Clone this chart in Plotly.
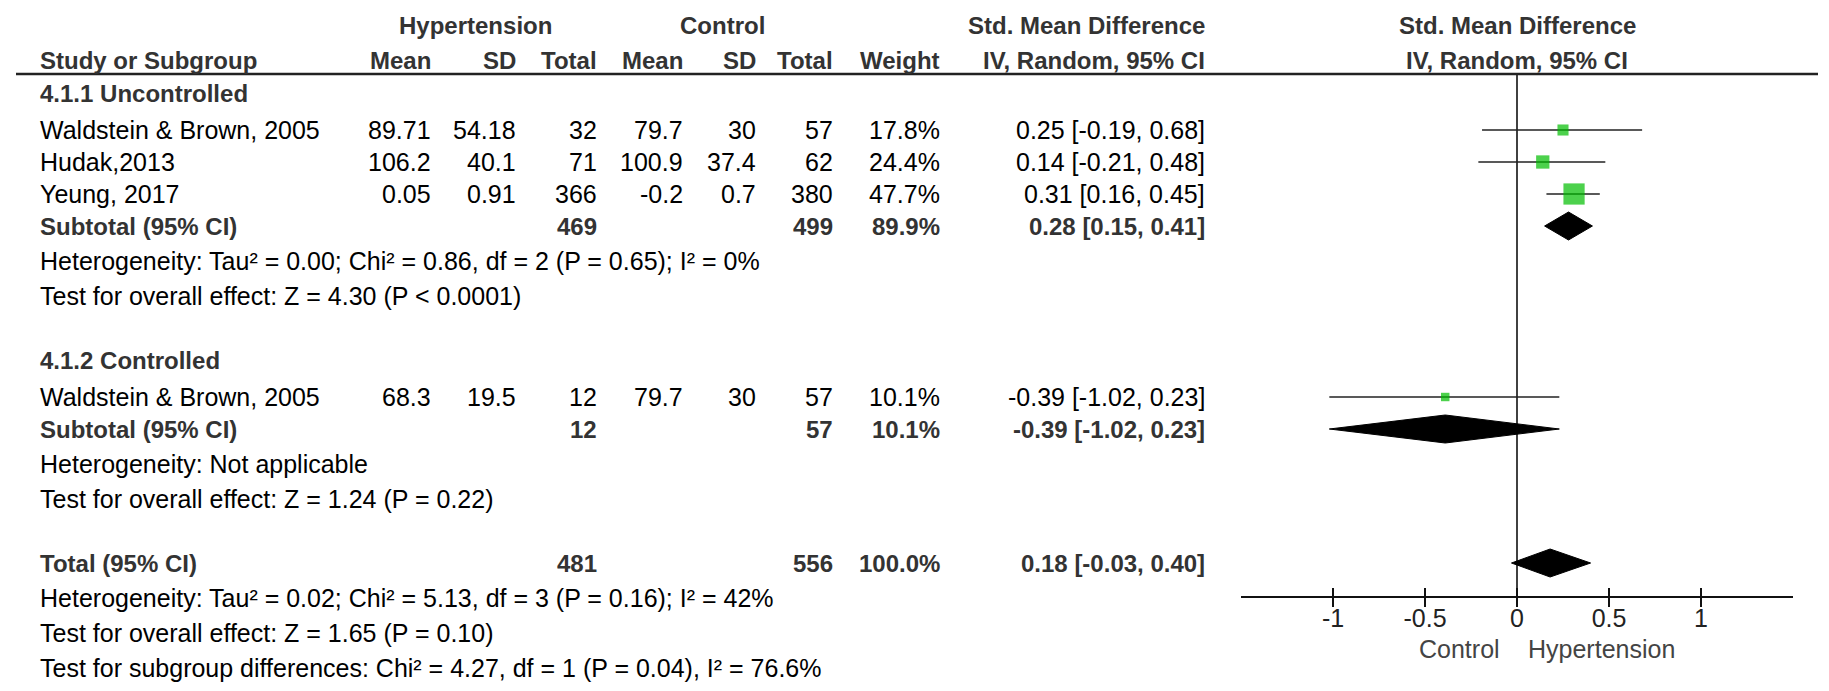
import plotly.graph_objects as go

# ---------------- data ----------------
group_names = ["4.1.1 Uncontrolled", "4.1.2 Controlled"]
study_names = ["Waldstein & Brown, 2005", "Hudak,2013", "Yeung, 2017", "Waldstein & Brown, 2005"]
study_group = [0, 0, 0, 1]
h_mean = [89.71, 106.2, 0.05, 68.3]
h_sd = [54.18, 40.1, 0.91, 19.5]
h_n = [32, 71, 366, 12]
c_mean = [79.7, 100.9, -0.2, 79.7]
c_sd = [30, 37.4, 0.7, 30]
c_n = [57, 62, 380, 57]
weights = [17.8, 24.4, 47.7, 10.1]
smd = [0.25, 0.14, 0.31, -0.39]
ci_lo = [-0.19, -0.21, 0.16, -1.02]
ci_hi = [0.68, 0.48, 0.45, 0.23]

sub_labels = ["Subtotal (95% CI)", "Subtotal (95% CI)", "Total (95% CI)"]
sub_h_n = [469, 12, 481]
sub_c_n = [499, 57, 556]
sub_weight = [89.9, 10.1, 100.0]
sub_smd = [0.28, -0.39, 0.18]
sub_lo = [0.15, -1.02, -0.03]
sub_hi = [0.41, 0.23, 0.40]

group_stats = [
    ["Heterogeneity: Tau² = 0.00; Chi² = 0.86, df = 2 (P = 0.65); I² = 0%",
     "Test for overall effect: Z = 4.30 (P < 0.0001)"],
    ["Heterogeneity: Not applicable",
     "Test for overall effect: Z = 1.24 (P = 0.22)"],
]
total_stats = [
    "Heterogeneity: Tau² = 0.02; Chi² = 5.13, df = 3 (P = 0.16); I² = 42%",
    "Test for overall effect: Z = 1.65 (P = 0.10)",
    "Test for subgroup differences: Chi² = 4.27, df = 1 (P = 0.04), I² = 76.6%",
]
tick_vals = [-1, -0.5, 0, 0.5, 1]
tick_text = ["-1", "-0.5", "0", "0.5", "1"]
favours = ["Control", "Hypertension"]

# ---------------- layout constants ----------------
W, H = 1829, 691
FONT = "Liberation Sans, Arial, sans-serif"
FS = 25
FSB = 24
BOLDC = "#333333"
GREEN = "#00BE00"

FIRST_ROW_PY = 93
PITCH = {"group": 37, "study": 32, "sub": 35, "gstat": 35, "tstat": 35, "blank": 29}
HDR1_PY, HDR2_PY = 25, 60
LINE_PY = 74
AXIS_PY = 597
FAV_PY = 649

# column right edges (px)
COL_STUDY = 38
COL_HM, COL_HSD, COL_HN = 433, 518, 599
COL_CM, COL_CSD, COL_CN = 685, 758, 835
COL_W, COL_CI = 942, 1207
X0_PX = 1517   # pixel of x=0 in forest plot
PX_PER_UNIT = 184
XR = [-1.5, 1.5]
dom = [(X0_PX + XR[0] * PX_PER_UNIT) / W, (X0_PX + XR[1] * PX_PER_UNIT) / W]

# ---------------- row assignment ----------------
rows = []  # (kind, index)
for g in range(len(group_names)):
    rows.append(("group", g))
    for i, sg in enumerate(study_group):
        if sg == g:
            rows.append(("study", i))
    rows.append(("sub", g))
    for k in range(len(group_stats[g])):
        rows.append(("gstat", (g, k)))
    rows.append(("blank", None))
rows.append(("sub", 2))
for k in range(len(total_stats)):
    rows.append(("tstat", k))

row_y = []
y = FIRST_ROW_PY
for kind, _ in rows:
    row_y.append(y)
    y += PITCH[kind]

annotations = []

def txt(px, py, s, anchor="right", bold=False, color=None, size=None):
    s = s.replace("&", "&amp;").replace("<", "&lt;")
    annotations.append(dict(
        x=px / W, xref="paper", y=py, yref="y", text=("<b>%s</b>" % s) if bold else s,
        xanchor=anchor, yanchor="middle", showarrow=False,
        font=dict(family=FONT, size=size or (FSB if bold else FS),
                  color=color or (BOLDC if bold else "#000000")),
    ))

def fmt(v):
    return ("%g" % v)

# header
txt(475, HDR1_PY, "Hypertension", "center", True)
txt(722, HDR1_PY, "Control", "center", True)
txt(COL_CI, HDR1_PY, "Std. Mean Difference", "right", True)
txt(X0_PX, HDR1_PY, "Std. Mean Difference", "center", True)
txt(COL_STUDY, HDR2_PY, "Study or Subgroup", "left", True)
for px, s in [(COL_HM, "Mean"), (COL_HSD, "SD"), (COL_HN, "Total"),
              (COL_CM, "Mean"), (COL_CSD, "SD"), (COL_CN, "Total"),
              (COL_W, "Weight"), (COL_CI, "IV, Random, 95% CI")]:
    txt(px, HDR2_PY, s, "right", True)
txt(X0_PX, HDR2_PY, "IV, Random, 95% CI", "center", True)

# body
study_y, sub_y = {}, {}
for (kind, idx), r in zip(rows, row_y):
    if kind == "group":
        txt(COL_STUDY, r, group_names[idx], "left", True)
    elif kind == "study":
        i = idx
        study_y[i] = r
        txt(COL_STUDY, r, study_names[i], "left")
        txt(COL_HM, r, fmt(h_mean[i]))
        txt(COL_HSD, r, fmt(h_sd[i]))
        txt(COL_HN, r, str(h_n[i]))
        txt(COL_CM, r, fmt(c_mean[i]))
        txt(COL_CSD, r, fmt(c_sd[i]))
        txt(COL_CN, r, str(c_n[i]))
        txt(COL_W, r, "%.1f%%" % weights[i])
        txt(COL_CI, r, "%.2f [%.2f, %.2f]" % (smd[i], ci_lo[i], ci_hi[i]))
    elif kind == "sub":
        j = idx
        sub_y[j] = r
        txt(COL_STUDY, r, sub_labels[j], "left", True)
        txt(COL_HN, r, str(sub_h_n[j]), "right", True)
        txt(COL_CN, r, str(sub_c_n[j]), "right", True)
        txt(COL_W, r, "%.1f%%" % sub_weight[j], "right", True)
        txt(COL_CI, r, "%.2f [%.2f, %.2f]" % (sub_smd[j], sub_lo[j], sub_hi[j]), "right", True)
    elif kind == "gstat":
        g, k = idx
        txt(COL_STUDY, r, group_stats[g][k], "left")
    elif kind == "tstat":
        txt(COL_STUDY, r, total_stats[idx], "left")

# favours labels under axis
annotations.append(dict(x=-0.08, xref="x", y=FAV_PY, yref="y", text=favours[0], xanchor="right",
                        yanchor="middle", showarrow=False, font=dict(family=FONT, size=FS, color="#444444")))
annotations.append(dict(x=0.05, xref="x", y=FAV_PY, yref="y", text=favours[1], xanchor="left",
                        yanchor="middle", showarrow=False, font=dict(family=FONT, size=FS, color="#444444")))

fig = go.Figure()

# zero line
fig.add_trace(go.Scatter(x=[0, 0], y=[LINE_PY, AXIS_PY], mode="lines",
                         line=dict(color="#111111", width=1.6), hoverinfo="skip", showlegend=False))

# CI lines
for i in range(len(smd)):
    r = study_y[i]
    fig.add_trace(go.Scatter(x=[ci_lo[i], ci_hi[i]], y=[r, r], mode="lines",
                             line=dict(color="#222222", width=1.6), hoverinfo="skip", showlegend=False))

# squares
fig.add_trace(go.Scatter(
    x=smd, y=[study_y[i] for i in range(len(smd))], mode="markers",
    marker=dict(symbol="square", color=GREEN, size=[5 + 0.34 * w for w in weights], line=dict(width=0)),
    hoverinfo="skip", showlegend=False))

# diamonds
HALF = 14
for j in range(len(sub_smd)):
    r = sub_y[j]
    fig.add_trace(go.Scatter(
        x=[sub_lo[j], sub_smd[j], sub_hi[j], sub_smd[j], sub_lo[j]],
        y=[r, r - HALF, r, r + HALF, r], mode="lines", fill="toself",
        fillcolor="#000000", line=dict(color="#000000", width=1),
        hoverinfo="skip", showlegend=False))

axis_pos = (H - AXIS_PY) / H
fig.update_layout(
    width=W, height=H, margin=dict(l=0, r=0, t=0, b=0),
    paper_bgcolor="white", plot_bgcolor="rgba(0,0,0,0)",
    showlegend=False,
    xaxis=dict(domain=dom, range=XR, anchor="free", position=axis_pos,
               showline=True, linecolor="#111111", linewidth=1.6,
               ticks="outside", ticklen=9, tickwidth=1.6, tickcolor="#111111",
               tickvals=tick_vals, ticktext=tick_text, showgrid=False, zeroline=False,
               ticklabelstandoff=-10,
               tickfont=dict(family=FONT, size=FS, color="#222222")),
    xaxis3=dict(domain=dom, range=XR, anchor="free", position=axis_pos, overlaying="x",
                matches="x", showline=False, ticks="inside", ticklen=9, tickwidth=1.6,
                tickcolor="#111111", tickvals=tick_vals, showticklabels=False,
                showgrid=False, zeroline=False),
    yaxis=dict(domain=[0, 1], range=[H, 0], visible=False, showgrid=False, zeroline=False),
    annotations=annotations,
    shapes=[dict(type="line", xref="paper", yref="y", x0=16 / W, x1=1818 / W, y0=LINE_PY, y1=LINE_PY,
                 line=dict(color="#222222", width=2.5))],
)
# invisible trace to activate xaxis3
fig.add_trace(go.Scatter(x=[0], y=[AXIS_PY], xaxis="x3", mode="markers",
                         marker=dict(opacity=0), hoverinfo="skip", showlegend=False))

fig.write_html("out.html", config={"displayModeBar": False},
               post_script="document.body.style.margin='0';document.body.style.overflow='hidden';")
